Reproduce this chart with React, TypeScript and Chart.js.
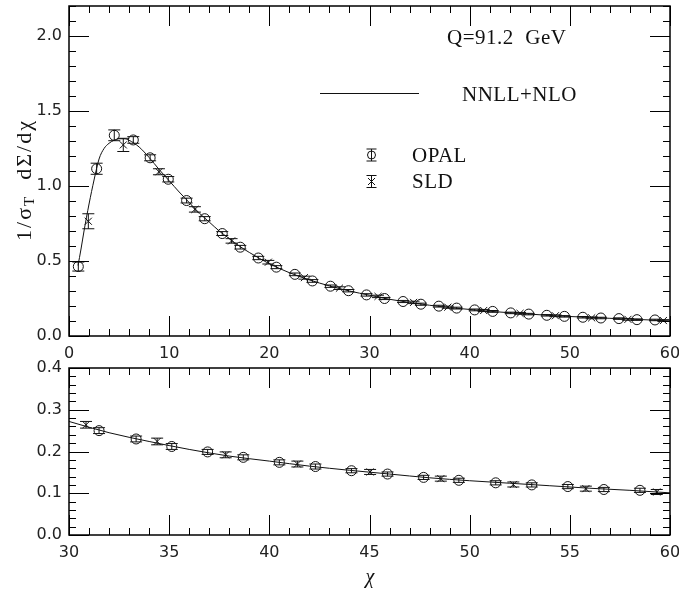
import React, { useEffect, useRef } from 'react';
import { Chart, registerables } from 'chart.js';
Chart.register(...registerables);

// ---- data ----
const opalX = [0.93, 2.76, 4.52, 6.42, 8.1, 9.91, 11.74, 13.55, 15.3, 17.1, 18.9, 20.7, 22.55, 24.3, 26.1, 27.9, 29.7, 31.5, 33.35, 35.13, 36.92, 38.7, 40.5, 42.3, 44.1, 45.9, 47.7, 49.46, 51.3, 53.1, 54.9, 56.7, 58.5];
const opalY = [0.463, 1.115, 1.338, 1.307, 1.188, 1.045, 0.903, 0.782, 0.683, 0.592, 0.52, 0.459, 0.411, 0.367, 0.332, 0.302, 0.274, 0.25, 0.23, 0.212, 0.199, 0.186, 0.174, 0.164, 0.154, 0.146, 0.138, 0.131, 0.125, 0.12, 0.116, 0.109, 0.107];
const opalErr = [0.03, 0.037, 0.036, 0.022, 0.02, 0.018, 0.016, 0.014, 0.013, 0.012, 0.011, 0.01, 0.009, 0.009, 0.008, 0.008, 0.008, 0.007, 0.007, 0.007, 0.006, 0.006, 0.006, 0.006, 0.005, 0.005, 0.005, 0.005, 0.005, 0.005, 0.005, 0.005, 0.005];

const sldX = [1.93, 5.42, 8.98, 12.57, 16.23, 19.9, 23.5, 27.0, 30.85, 34.4, 37.82, 41.4, 45.03, 48.56, 52.18, 55.8, 59.34];
const sldY = [0.765, 1.274, 1.095, 0.844, 0.634, 0.492, 0.389, 0.319, 0.264, 0.224, 0.192, 0.17, 0.151, 0.135, 0.121, 0.111, 0.103];
const sldErr = [0.05, 0.044, 0.02, 0.018, 0.015, 0.012, 0.01, 0.009, 0.008, 0.008, 0.007, 0.007, 0.006, 0.006, 0.006, 0.006, 0.006];

const theoryX = [0.9, 1.2, 1.5, 2.0, 2.5, 3.0, 3.5, 4.0, 4.5, 5.0, 5.5, 6.0, 7.0, 8.0, 9.0, 10, 11, 12, 13, 14, 15, 16, 17, 18, 19, 20, 22, 24, 26, 28, 30, 32, 34, 36, 38, 40, 42, 44, 46, 48, 50, 52, 54, 56, 58, 60];
const theoryY = [0.47, 0.58, 0.7, 0.88, 1.04, 1.18, 1.25, 1.285, 1.305, 1.315, 1.315, 1.305, 1.26, 1.19, 1.11, 1.035, 0.96, 0.89, 0.82, 0.76, 0.7, 0.65, 0.6, 0.557, 0.518, 0.482, 0.422, 0.374, 0.334, 0.3, 0.272, 0.245, 0.224, 0.205, 0.189, 0.177, 0.165, 0.155, 0.146, 0.137, 0.13, 0.124, 0.118, 0.112, 0.107, 0.101];

const topXTicks = [0, 10, 20, 30, 40, 50, 60];
const topYTicks = [0, 0.5, 1.0, 1.5, 2.0];
const botXTicks = [30, 35, 40, 45, 50, 55, 60];
const botYTicks = [0, 0.1, 0.2, 0.3, 0.4];

const TICK_FONT = { family: 'DejaVu Sans', size: 16 };
const TICK_COLOR = '#222';

type Frame = { xMinor: number; xMajor: number; yMinor: number; yMajor: number };

function makeFramePlugin(f: Frame, extra?: (chart: any) => void) {
  return {
    id: 'frameAndErrors',
    afterDatasetsDraw(chart: any) {
      const { ctx, chartArea, scales } = chart;
      const { left, right, top, bottom } = chartArea;
      const x = scales.x;
      const y = scales.y;
      ctx.save();
      ctx.beginPath();
      ctx.rect(left, top, right - left, bottom - top);
      ctx.clip();
      ctx.strokeStyle = '#111';
      ctx.lineWidth = 1;
      chart.data.datasets.forEach((ds: any) => {
        if (!ds.errors) return;
        ds.data.forEach((p: any, i: number) => {
          const e = ds.errors[i];
          const px = x.getPixelForValue(p.x);
          const y1 = y.getPixelForValue(p.y - e);
          const y2 = y.getPixelForValue(p.y + e);
          ctx.beginPath();
          ctx.moveTo(px, y1);
          ctx.lineTo(px, y2);
          ctx.moveTo(px - 6, y1);
          ctx.lineTo(px + 6, y1);
          ctx.moveTo(px - 6, y2);
          ctx.lineTo(px + 6, y2);
          ctx.stroke();
        });
      });
      ctx.restore();

      ctx.save();
      ctx.strokeStyle = '#000';
      ctx.lineWidth = 1;
      const isMajor = (v: number, m: number) => Math.abs(v / m - Math.round(v / m)) < 1e-6;
      for (let v = x.min; v <= x.max + 1e-9; v += f.xMinor) {
        const px = Math.round(x.getPixelForValue(v)) + 0.5;
        const L = isMajor(v, f.xMajor) ? 20 : 7;
        ctx.beginPath();
        ctx.moveTo(px, bottom);
        ctx.lineTo(px, bottom - L);
        ctx.moveTo(px, top);
        ctx.lineTo(px, top + L);
        ctx.stroke();
      }
      for (let v = y.min; v <= y.max + 1e-9; v += f.yMinor) {
        const py = Math.round(y.getPixelForValue(v)) + 0.5;
        const L = isMajor(v, f.yMajor) ? 20 : 7;
        ctx.beginPath();
        ctx.moveTo(left, py);
        ctx.lineTo(left + L, py);
        ctx.moveTo(right, py);
        ctx.lineTo(right - L, py);
        ctx.stroke();
      }
      ctx.lineWidth = 1.5;
      ctx.strokeRect(left, top, right - left, bottom - top);
      ctx.restore();
      if (extra) extra(chart);
    },
  };
}

function drawTopAnnotations(chart: any) {
  const { ctx } = chart;
  ctx.save();
  ctx.fillStyle = '#111';
  ctx.strokeStyle = '#111';
  ctx.textBaseline = 'middle';
  ctx.font = '21px "Liberation Serif"';
  (ctx as any).letterSpacing = '0.5px';
  ctx.fillText('Q=91.2  GeV', 447, 38);
  ctx.fillText('NNLL+NLO', 462, 95);
  ctx.fillText('OPAL', 412, 156);
  ctx.fillText('SLD', 412, 182);
  (ctx as any).letterSpacing = '0px';
  ctx.lineWidth = 1;
  ctx.beginPath();
  ctx.moveTo(320, 93.5);
  ctx.lineTo(419, 93.5);
  ctx.stroke();
  const sx = 371.5;
  const oy = 155;
  ctx.beginPath();
  ctx.moveTo(sx - 5, oy - 6); ctx.lineTo(sx + 5, oy - 6);
  ctx.moveTo(sx - 5, oy + 6); ctx.lineTo(sx + 5, oy + 6);
  ctx.moveTo(sx, oy - 6); ctx.lineTo(sx, oy + 6);
  ctx.stroke();
  ctx.beginPath();
  ctx.arc(sx, oy, 4, 0, Math.PI * 2);
  ctx.stroke();
  const sy = 181.5;
  ctx.beginPath();
  ctx.moveTo(sx - 5, sy - 6); ctx.lineTo(sx + 5, sy - 6);
  ctx.moveTo(sx - 5, sy + 6); ctx.lineTo(sx + 5, sy + 6);
  ctx.moveTo(sx, sy - 6); ctx.lineTo(sx, sy + 6);
  ctx.moveTo(sx - 3.5, sy - 3.5); ctx.lineTo(sx + 3.5, sy + 3.5);
  ctx.moveTo(sx + 3.5, sy - 3.5); ctx.lineTo(sx - 3.5, sy + 3.5);
  ctx.stroke();

  // y axis title
  ctx.translate(25, 180);
  ctx.rotate(-Math.PI / 2);
  const big = '22px "Liberation Serif"';
  const small = '15px "Liberation Serif"';
  (ctx as any).letterSpacing = '2px';
  const parts: [string, string, number][] = [
    ['1/σ', big, 0],
    ['T', small, 5],
    ['  dΣ/dχ', big, 0],
  ];
  let total = 0;
  parts.forEach(([t, f]) => { ctx.font = f; total += ctx.measureText(t).width; });
  let cx = -total / 2;
  ctx.textAlign = 'left';
  parts.forEach(([t, f, dy]) => {
    ctx.font = f;
    ctx.fillText(t, cx, dy);
    cx += ctx.measureText(t).width;
  });
  ctx.restore();
}

function drawBottomAnnotations(chart: any) {
  const { ctx } = chart;
  ctx.save();
  ctx.fillStyle = '#111';
  ctx.textAlign = 'center';
  ctx.textBaseline = 'middle';
  ctx.font = 'italic 20px "Liberation Serif"';
  ctx.fillText('χ', 370, 238);
  ctx.restore();
}

function buildDatasets() {
  return [
    {
      type: 'line',
      label: 'NNLL+NLO',
      data: theoryX.map((x, i) => ({ x, y: theoryY[i] })),
      borderColor: '#111',
      borderWidth: 1,
      pointRadius: 0,
      cubicInterpolationMode: 'monotone',
      fill: false,
    },
    {
      type: 'scatter',
      label: 'OPAL',
      data: opalX.map((x, i) => ({ x, y: opalY[i] })),
      errors: opalErr,
      pointStyle: 'circle',
      pointRadius: 5,
      borderColor: '#111',
      backgroundColor: 'rgba(0,0,0,0)',
      borderWidth: 1,
    },
    {
      type: 'scatter',
      label: 'SLD',
      data: sldX.map((x, i) => ({ x, y: sldY[i] })),
      errors: sldErr,
      pointStyle: 'crossRot',
      pointRadius: 5,
      borderColor: '#111',
      borderWidth: 1,
    },
  ];
}

function axis(min: number, max: number, ticks: number[], fmt: (v: number) => string, isX: boolean, size: number, pad: number) {
  return {
    type: 'linear',
    min,
    max,
    grid: { display: false, drawTicks: false },
    border: { display: false },
    ticks: {
      font: TICK_FONT,
      color: TICK_COLOR,
      padding: pad,
      autoSkip: false,
      maxRotation: 0,
      callback: (v: any) => fmt(Number(v)),
    },
    afterBuildTicks: (s: any) => { s.ticks = ticks.map((v) => ({ value: v })); },
    afterFit: (s: any) => {
      if (isX) s.height = size; else s.width = size;
      s.paddingTop = 0;
      s.paddingBottom = 0;
      s.paddingLeft = 0;
      s.paddingRight = 0;
    },
  };
}

function ChartCanvas(props: { top: number; height: number; build: (c: HTMLCanvasElement) => Chart }) {
  const ref = useRef<HTMLCanvasElement>(null);
  useEffect(() => {
    const c = props.build(ref.current!);
    return () => c.destroy();
  }, []);
  return (
    <canvas
      ref={ref}
      width={679}
      height={props.height}
      style={{ display: 'block', position: 'absolute', left: 0, top: props.top, width: 679, height: props.height }}
    />
  );
}

export default function App() {
  const buildTop = (canvas: HTMLCanvasElement) =>
    new Chart(canvas, {
      type: 'scatter',
      data: { datasets: buildDatasets() as any },
      options: {
        responsive: false,
        animation: false,
        devicePixelRatio: 1,
        layout: { padding: { top: 2, right: 9, left: 0, bottom: 0 } },
        plugins: { legend: { display: false }, tooltip: { enabled: false } },
        scales: {
          x: axis(0, 60, topXTicks, (v) => String(v), true, 26, 8),
          y: axis(0, 2.2, topYTicks, (v) => v.toFixed(1), false, 69, 7),
        } as any,
      },
      plugins: [makeFramePlugin({ xMinor: 2, xMajor: 10, yMinor: 0.1, yMajor: 0.5 }, drawTopAnnotations)],
    } as any);

  const buildBottom = (canvas: HTMLCanvasElement) =>
    new Chart(canvas, {
      type: 'scatter',
      data: { datasets: buildDatasets() as any },
      options: {
        responsive: false,
        animation: false,
        devicePixelRatio: 1,
        layout: { padding: { top: 28, right: 9, left: 0, bottom: 0 } },
        plugins: { legend: { display: false }, tooltip: { enabled: false } },
        scales: {
          x: axis(30, 60, botXTicks, (v) => String(v), true, 55, 8),
          y: axis(0, 0.4, botYTicks, (v) => v.toFixed(1), false, 69, 7),
        } as any,
      },
      plugins: [makeFramePlugin({ xMinor: 1, xMajor: 5, yMinor: 0.02, yMajor: 0.1 }, drawBottomAnnotations)],
    } as any);

  return (
    <div style={{ position: 'absolute', left: 0, top: 0, width: 679, height: 590, background: '#fff' }}>
      <ChartCanvas top={0} height={362} build={buildTop} />
      <ChartCanvas top={340} height={250} build={buildBottom} />
    </div>
  );
}
